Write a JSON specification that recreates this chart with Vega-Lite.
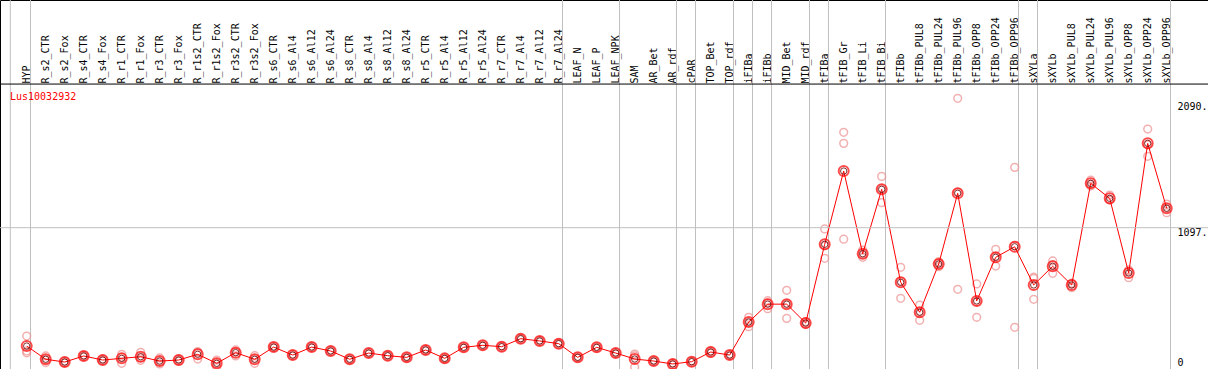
{
  "$schema": "https://vega.github.io/schema/vega-lite/v6.json",
  "width": 1208,
  "height": 369,
  "padding": 0,
  "autosize": "none",
  "background": "white",
  "config": {"view": {"stroke": "black", "strokeWidth": 1}, "font": "DejaVu Sans Mono"},
  "title": {"text": "Lus10032932", "anchor": "start", "frame": "group", "orient": "top", "offset": -102, "dx": 10, "color": "red", "font": "DejaVu Sans Mono", "fontSize": 10, "fontWeight": "normal"},
  "datasets": {
    "expr": [
      {"cat": "HYP", "mean": 165, "r1": 244, "r2": 126, "r3": 112},
      {"cat": "R_s2_CTR", "mean": 61, "r1": 87, "r2": 61, "r3": 35},
      {"cat": "R_s2_Fox", "mean": 39, "r1": 44, "r2": 39, "r3": 34},
      {"cat": "R_s4_CTR", "mean": 87, "r1": 92, "r2": 87, "r3": 82},
      {"cat": "R_s4_Fox", "mean": 55, "r1": 63, "r2": 52, "r3": 50},
      {"cat": "R_r1_CTR", "mean": 68, "r1": 100, "r2": 75, "r3": 29},
      {"cat": "R_r1_Fox", "mean": 81, "r1": 116, "r2": 74, "r3": 53},
      {"cat": "R_r3_CTR", "mean": 47, "r1": 71, "r2": 46, "r3": 24},
      {"cat": "R_r3_Fox", "mean": 55, "r1": 62, "r2": 55, "r3": 48},
      {"cat": "R_r1s2_CTR", "mean": 100, "r1": 121, "r2": 116, "r3": 63},
      {"cat": "R_r1s2_Fox", "mean": 29, "r1": 55, "r2": 30, "r3": 2},
      {"cat": "R_r3s2_CTR", "mean": 113, "r1": 134, "r2": 118, "r3": 87},
      {"cat": "R_r3s2_Fox", "mean": 61, "r1": 89, "r2": 65, "r3": 29},
      {"cat": "R_s6_CTR", "mean": 157, "r1": 161, "r2": 157, "r3": 153},
      {"cat": "R_s6_Al4", "mean": 94, "r1": 98, "r2": 94, "r3": 90},
      {"cat": "R_s6_Al12", "mean": 157, "r1": 161, "r2": 157, "r3": 153},
      {"cat": "R_s6_Al24", "mean": 126, "r1": 130, "r2": 126, "r3": 122},
      {"cat": "R_s8_CTR", "mean": 61, "r1": 65, "r2": 61, "r3": 57},
      {"cat": "R_s8_Al4", "mean": 110, "r1": 114, "r2": 110, "r3": 106},
      {"cat": "R_s8_Al12", "mean": 89, "r1": 93, "r2": 89, "r3": 85},
      {"cat": "R_s8_Al24", "mean": 76, "r1": 80, "r2": 76, "r3": 72},
      {"cat": "R_r5_CTR", "mean": 134, "r1": 138, "r2": 134, "r3": 130},
      {"cat": "R_r5_Al4", "mean": 68, "r1": 72, "r2": 68, "r3": 64},
      {"cat": "R_r5_Al12", "mean": 155, "r1": 159, "r2": 155, "r3": 151},
      {"cat": "R_r5_Al24", "mean": 171, "r1": 175, "r2": 171, "r3": 167},
      {"cat": "R_r7_CTR", "mean": 160, "r1": 164, "r2": 160, "r3": 156},
      {"cat": "R_r7_Al4", "mean": 223, "r1": 227, "r2": 223, "r3": 219},
      {"cat": "R_r7_Al12", "mean": 205, "r1": 209, "r2": 205, "r3": 201},
      {"cat": "R_r7_Al24", "mean": 184, "r1": 188, "r2": 184, "r3": 180},
      {"cat": "LEAF_N", "mean": 76, "r1": 80, "r2": 76, "r3": 72},
      {"cat": "LEAF_P", "mean": 155, "r1": 159, "r2": 155, "r3": 151},
      {"cat": "LEAF_NPK", "mean": 110, "r1": 114, "r2": 110, "r3": 106},
      {"cat": "SAM", "mean": 63, "r1": 102, "r2": 88, "r3": 0},
      {"cat": "AR_Bet", "mean": 47, "r1": 51, "r2": 47, "r3": 43},
      {"cat": "AR_rdf", "mean": 24, "r1": 31, "r2": 24, "r3": 17},
      {"cat": "cPAR", "mean": 42, "r1": 46, "r2": 42, "r3": 38},
      {"cat": "TOP_Bet", "mean": 118, "r1": 127, "r2": 118, "r3": 109},
      {"cat": "TOP_rdf", "mean": 94, "r1": 98, "r2": 94, "r3": 90},
      {"cat": "iFIBa", "mean": 354, "r1": 391, "r2": 354, "r3": 317},
      {"cat": "iFIBb", "mean": 495, "r1": 522, "r2": 504, "r3": 459},
      {"cat": "MID_Bet", "mean": 495, "r1": 604, "r2": 497, "r3": 383},
      {"cat": "MID_rdf", "mean": 346, "r1": 358, "r2": 346, "r3": 334},
      {"cat": "tFIBa", "mean": 966, "r1": 1087, "r2": 955, "r3": 856},
      {"cat": "tFIB_Gr", "mean": 1543, "r1": 1848, "r2": 1761, "r3": 1006},
      {"cat": "tFIB_Li", "mean": 892, "r1": 921, "r2": 890, "r3": 864},
      {"cat": "tFIB_Bi", "mean": 1399, "r1": 1501, "r2": 1402, "r3": 1294},
      {"cat": "tFIBb", "mean": 667, "r1": 785, "r2": 675, "r3": 541},
      {"cat": "tFIBb_PUL8", "mean": 431, "r1": 488, "r2": 437, "r3": 368},
      {"cat": "tFIBb_PUL24", "mean": 811, "r1": 829, "r2": 814, "r3": 790},
      {"cat": "tFIBb_PUL96", "mean": 1368, "r1": 2116, "r2": 1376, "r3": 612},
      {"cat": "tFIBb_OPP8", "mean": 520, "r1": 654, "r2": 515, "r3": 391},
      {"cat": "tFIBb_OPP24", "mean": 864, "r1": 927, "r2": 870, "r3": 795},
      {"cat": "tFIBb_OPP96", "mean": 947, "r1": 1572, "r2": 956, "r3": 313},
      {"cat": "sXYLa", "mean": 646, "r1": 698, "r2": 707, "r3": 533},
      {"cat": "sXYLb", "mean": 793, "r1": 835, "r2": 806, "r3": 738},
      {"cat": "sXYLb_PUL8", "mean": 646, "r1": 660, "r2": 653, "r3": 625},
      {"cat": "sXYLb_PUL24", "mean": 1446, "r1": 1472, "r2": 1441, "r3": 1425},
      {"cat": "sXYLb_PUL96", "mean": 1328, "r1": 1354, "r2": 1315, "r3": 1315},
      {"cat": "sXYLb_OPP8", "mean": 740, "r1": 764, "r2": 753, "r3": 703},
      {"cat": "sXYLb_OPP24", "mean": 1761, "r1": 1874, "r2": 1750, "r3": 1659},
      {"cat": "sXYLb_OPP96", "mean": 1250, "r1": 1283, "r2": 1252, "r3": 1215}
    ],
    "seps": [
      {"pos": 0.137}, {"pos": 1.2}, {"pos": 29.2}, {"pos": 32.2}, {"pos": 35.2}, {"pos": 36.2},
      {"pos": 38.2}, {"pos": 39.2}, {"pos": 40.2}, {"pos": 42.2}, {"pos": 43.2}, {"pos": 46.2},
      {"pos": 53.2}, {"pos": 54.2}, {"pos": 61.2}
    ]
  },
  "layer": [
    {
      "data": {"name": "seps"},
      "mark": {"type": "rule", "color": "#c0c0c0", "strokeWidth": 1},
      "encoding": {
        "x": {"field": "pos", "type": "quantitative", "scale": {"domain": [-0.405, 63.174], "nice": false, "zero": false}, "axis": null}
      }
    },
    {
      "data": {"name": "expr"},
      "encoding": {
        "x": {
          "field": "cat", "type": "nominal", "sort": null,
          "scale": {"type": "point", "padding": 0, "range": [26.7, 1166.7]},
          "axis": {"orient": "top", "offset": -85, "title": null, "labelAngle": 270, "labelAlign": "left", "labelBaseline": "middle", "labelPadding": 2, "ticks": false, "domain": false, "labelFont": "DejaVu Sans Mono", "labelFontSize": 10, "labelColor": "black", "labelOverlap": false, "labelBound": false, "labelLimit": 0, "grid": false}
        }
      },
      "layer": [
        {
          "transform": [{"fold": ["r1", "r2", "r3"], "as": ["rep", "val"]}],
          "mark": {"type": "point", "shape": "circle", "filled": false, "color": "#ee9090", "size": 60, "strokeWidth": 1.5},
          "encoding": {
            "y": {"field": "val", "type": "quantitative", "title": null,
              "scale": {"domain": [-15.7, 2889.8], "nice": false, "zero": false},
              "axis": {"orient": "right", "offset": -33, "values": [0, 1097, 2090], "title": null, "domain": false, "ticks": false, "labelPadding": 2, "labelFont": "DejaVu Sans Mono", "labelFontSize": 10, "labelColor": "black", "labelExpr": "datum.value == 0 ? '0' : datum.value + '.'", "labelBaseline": {"condition": {"test": "datum.value == 0", "value": "bottom"}, "value": "top"}, "labelFlush": false, "labelOverlap": false, "grid": false}
            }
          }
        },
        {
          "mark": {"type": "line", "color": "red", "strokeWidth": 1},
          "encoding": {"y": {"field": "mean", "type": "quantitative", "title": null, "scale": {"domain": [-15.7, 2889.8], "nice": false, "zero": false},
              "axis": {"orient": "right", "offset": -33, "values": [0, 1097, 2090], "title": null, "domain": false, "ticks": false, "labelPadding": 2, "labelFont": "DejaVu Sans Mono", "labelFontSize": 10, "labelColor": "black", "labelExpr": "datum.value == 0 ? '0' : datum.value + '.'", "labelBaseline": {"condition": {"test": "datum.value == 0", "value": "bottom"}, "value": "top"}, "labelFlush": false, "labelOverlap": false, "grid": false}}}
        },
        {
          "mark": {"type": "point", "shape": "circle", "filled": false, "color": "red", "size": 100, "strokeWidth": 2},
          "encoding": {"y": {"field": "mean", "type": "quantitative", "title": null, "scale": {"domain": [-15.7, 2889.8], "nice": false, "zero": false},
              "axis": {"orient": "right", "offset": -33, "values": [0, 1097, 2090], "title": null, "domain": false, "ticks": false, "labelPadding": 2, "labelFont": "DejaVu Sans Mono", "labelFontSize": 10, "labelColor": "black", "labelExpr": "datum.value == 0 ? '0' : datum.value + '.'", "labelBaseline": {"condition": {"test": "datum.value == 0", "value": "bottom"}, "value": "top"}, "labelFlush": false, "labelOverlap": false, "grid": false}}}
        },
        {
          "mark": {"type": "point", "shape": "circle", "filled": false, "color": "#600000", "size": 40, "strokeWidth": 1, "opacity": 0.8},
          "encoding": {"y": {"field": "mean", "type": "quantitative", "title": null, "scale": {"domain": [-15.7, 2889.8], "nice": false, "zero": false},
              "axis": {"orient": "right", "offset": -33, "values": [0, 1097, 2090], "title": null, "domain": false, "ticks": false, "labelPadding": 2, "labelFont": "DejaVu Sans Mono", "labelFontSize": 10, "labelColor": "black", "labelExpr": "datum.value == 0 ? '0' : datum.value + '.'", "labelBaseline": {"condition": {"test": "datum.value == 0", "value": "bottom"}, "value": "top"}, "labelFlush": false, "labelOverlap": false, "grid": false}}}
        }
      ]
    },
    {
      "data": {"values": [{"level": 1097}, {"level": 2228}]},
      "mark": {"type": "rule", "strokeWidth": 1},
      "encoding": {
        "y": {"field": "level", "type": "quantitative", "title": null, "scale": {"domain": [-15.7, 2889.8], "nice": false, "zero": false},
          "axis": {"orient": "right", "offset": -33, "values": [0, 1097, 2090], "title": null, "domain": false, "ticks": false, "labelPadding": 2, "labelFont": "DejaVu Sans Mono", "labelFontSize": 10, "labelColor": "black", "labelExpr": "datum.value == 0 ? '0' : datum.value + '.'", "labelBaseline": {"condition": {"test": "datum.value == 0", "value": "bottom"}, "value": "top"}, "labelFlush": false, "labelOverlap": false, "grid": false}},
        "color": {"condition": {"test": "datum.level == 1097", "value": "#c0c0c0"}, "value": "black"}
      }
    }
  ],
  "resolve": {"scale": {"x": "independent"}}
}
